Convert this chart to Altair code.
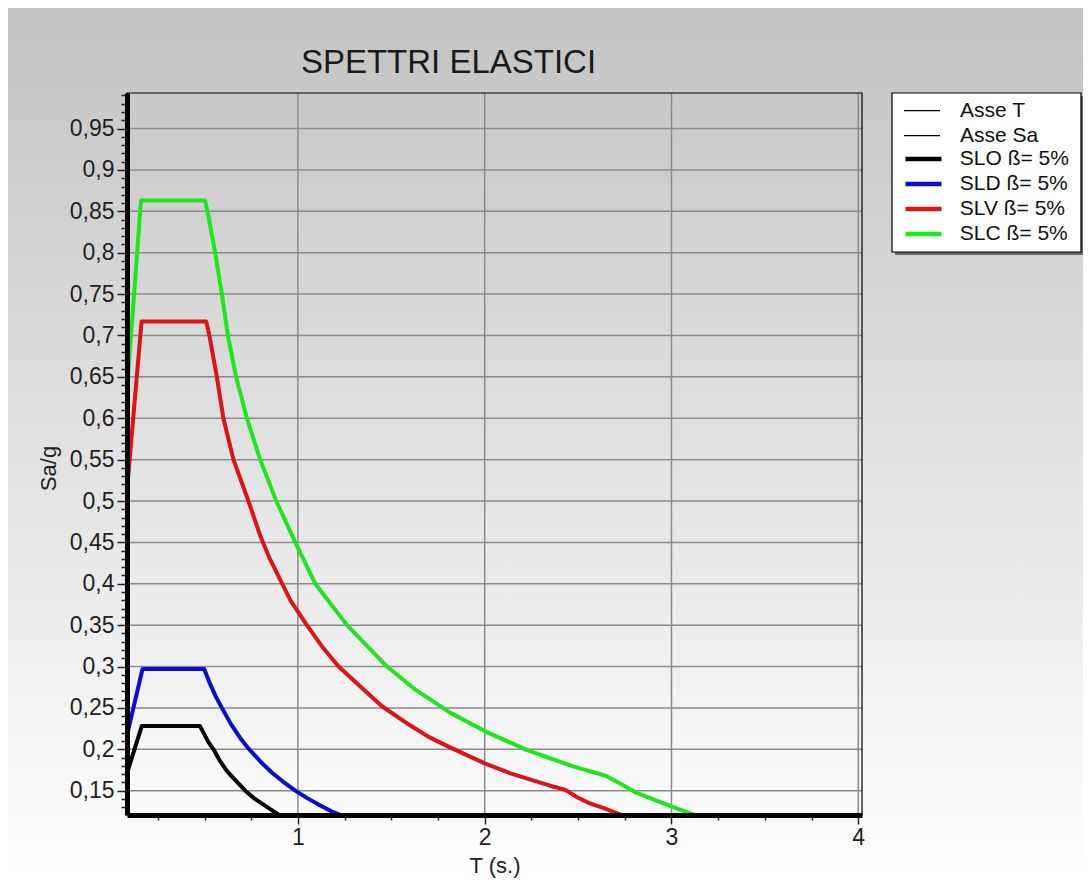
import altair as alt
import pandas as pd

# ---------------- data ----------------
T_SLO = [0.085, 0.164, 0.476, 0.52, 0.548, 0.58, 0.619, 0.66, 0.718, 0.77, 0.83, 0.896, 0.905]
SA_SLO = [0.171, 0.228, 0.228, 0.209, 0.200, 0.187, 0.174, 0.164, 0.150, 0.140, 0.131, 0.121, 0.119]

T_SLD = [0.085, 0.168, 0.498, 0.53, 0.56, 0.593, 0.64, 0.69, 0.735, 0.80, 0.86, 0.92, 0.986,
         1.05, 1.12, 1.18, 1.236]
SA_SLD = [0.217, 0.297, 0.297, 0.279, 0.264, 0.250, 0.231, 0.214, 0.201, 0.185, 0.172, 0.161, 0.150,
          0.141, 0.132, 0.125, 0.120]

T_SLV = [0.085, 0.163, 0.509, 0.526, 0.566, 0.601, 0.655, 0.735, 0.80, 0.85, 0.905, 0.96, 1.048,
         1.13, 1.218, 1.343, 1.45, 1.60, 1.70, 1.817, 2.0, 2.138, 2.25, 2.35, 2.432, 2.495, 2.56,
         2.638, 2.74]
SA_SLV = [0.513, 0.717, 0.717, 0.700, 0.650, 0.600, 0.550, 0.500, 0.457, 0.430, 0.405, 0.380, 0.350,
          0.324, 0.300, 0.274, 0.252, 0.229, 0.215, 0.202, 0.183, 0.171, 0.163, 0.156, 0.151, 0.142,
          0.135, 0.129, 0.120]

T_SLC = [0.085, 0.160, 0.503, 0.516, 0.557, 0.593, 0.625, 0.669, 0.727, 0.798, 0.884, 0.986, 1.093,
         1.263, 1.477, 1.629, 1.817, 2.0, 2.227, 2.477, 2.647, 2.73, 2.817, 2.91, 3.0, 3.07, 3.13]
SA_SLC = [0.635, 0.863, 0.863, 0.850, 0.800, 0.750, 0.700, 0.650, 0.600, 0.550, 0.500, 0.450, 0.400,
          0.350, 0.300, 0.272, 0.244, 0.222, 0.199, 0.179, 0.168, 0.158, 0.147, 0.139, 0.131, 0.125,
          0.120]

X_MIN, X_MAX = 0.085, 4.02
Y_MIN, Y_MAX = 0.1206, 0.993

T_ASSE_T = [X_MIN, X_MAX]
SA_ASSE_T = [Y_MIN, Y_MIN]
T_ASSE_SA = [X_MIN, X_MIN]
SA_ASSE_SA = [Y_MIN, Y_MAX]

AXES_SERIES = ["Asse T", "Asse Sa"]
CURVE_SERIES = ["SLO ß= 5%", "SLD ß= 5%", "SLV ß= 5%", "SLC ß= 5%"]
AXES_COLORS = ["#000000", "#000000"]
CURVE_COLORS = ["#000000", "#0c0cd0", "#dc1414", "#1ee61e"]

Y_GRID = [0.15, 0.2, 0.25, 0.3, 0.35, 0.4, 0.45, 0.5, 0.55, 0.6, 0.65, 0.7, 0.75, 0.8, 0.85, 0.9, 0.95]
Y_TICKS = [round(0.13 + 0.01 * i, 2) for i in range(87)]
X_GRID = [1, 2, 3, 4]
X_TICKS = [0.25 * i for i in range(1, 17)]


def table(items):
    rows = []
    for name, ts, sas in items:
        for i, (t, s) in enumerate(zip(ts, sas)):
            rows.append({"serie": name, "T": t, "Sa": s, "i": i})
    return pd.DataFrame(rows)


df_axes = table([("Asse T", T_ASSE_T, SA_ASSE_T), ("Asse Sa", T_ASSE_SA, SA_ASSE_SA)])
df_curves = table([
    ("SLO ß= 5%", T_SLO, SA_SLO),
    ("SLD ß= 5%", T_SLD, SA_SLD),
    ("SLV ß= 5%", T_SLV, SA_SLV),
    ("SLC ß= 5%", T_SLC, SA_SLC),
])

W, H = 735, 722
PAD = {"left": 119, "top": 85, "right": 221, "bottom": 64}
FONT = "Liberation Sans"
ROW = 24.2

xscale = alt.Scale(domain=[X_MIN, X_MAX], nice=False, zero=False)
yscale = alt.Scale(domain=[Y_MIN, Y_MAX], nice=False, zero=False)

common_axis = dict(
    zindex=1, domainColor="black", domainWidth=5, tickColor="#222222", tickWidth=1.5,
    labelFont=FONT, labelFontSize=23, labelColor="#222222",
    titleFont=FONT, titleFontSize=22, titleFontWeight="normal", titleColor="#222222",
    grid=False, labelOverlap=False,
)

xaxis = alt.Axis(
    values=X_TICKS,
    labelExpr="datum.value % 1 == 0 ? format(datum.value, 'd') : ''",
    tickSize={"condition": {"test": "datum.value % 1 == 0", "value": 9}, "value": 5},
    labelPadding=2, titlePadding=6, **common_axis,
)
yaxis = alt.Axis(
    values=Y_TICKS,
    labelExpr="abs(datum.value*20 - round(datum.value*20)) < 0.001 ? replace(format(datum.value, '.2~f'), '.', ',') : ''",
    tickSize={"condition": {"test": "abs(datum.value*20 - round(datum.value*20)) < 0.001", "value": 10}, "value": 6},
    labelPadding=3,
    titleX=-72, titleY=H / 2 + 14, titleBaseline="alphabetic",
    **common_axis,
)


def X(field="T"):
    return alt.X(f"{field}:Q", scale=xscale, axis=xaxis, title="T (s.)")


def Y(field="Sa"):
    return alt.Y(f"{field}:Q", scale=yscale, axis=yaxis, title="Sa/g")


gradient = alt.LinearGradient(
    gradient="linear",
    stops=[alt.GradientStop(color="#c3c3c3", offset=0), alt.GradientStop(color="#ffffff", offset=1)],
    x1=0, x2=0, y1=0, y2=1,
)

one = alt.Data(values=[{"a": 1}])

bg = alt.Chart(one).mark_rect(clip=False, color=gradient).encode(
    x=alt.value(-PAD["left"]), x2=alt.value(W + PAD["right"]),
    y=alt.value(-PAD["top"]), y2=alt.value(H + PAD["bottom"]),
)

hgrid = alt.Chart(pd.DataFrame({"Sa": Y_GRID})).mark_rule(color="#8a8a8a", strokeWidth=1.5).encode(y=Y())
vgrid = alt.Chart(pd.DataFrame({"T": X_GRID})).mark_rule(color="#8a8a8a", strokeWidth=1.5).encode(x=X())

border = alt.Chart(one).mark_rect(fillOpacity=0, stroke="black", strokeWidth=1.2).encode(
    x=alt.value(0), x2=alt.value(W), y=alt.value(0), y2=alt.value(H)
)

# legend box (white panel with a drop shadow)
LBX, LBY, LBW, LBH = 765, 0, 189, 159
shadow = alt.Chart(one).mark_rect(clip=False, color="#6a6a6a").encode(
    x=alt.value(LBX + 3), x2=alt.value(LBX + LBW + 3), y=alt.value(LBY + 3), y2=alt.value(LBY + LBH + 3)
)
lbox = alt.Chart(one).mark_rect(clip=False, fill="white", stroke="black", strokeWidth=1.2).encode(
    x=alt.value(LBX), x2=alt.value(LBX + LBW), y=alt.value(LBY), y2=alt.value(LBY + LBH)
)

leg_common = dict(
    title=None, orient="none", legendX=LBX + 1, padding=10,
    symbolType="stroke", symbolSize=1296, labelFontSize=21, labelFont=FONT,
    labelColor="#111111", rowPadding=0, clipHeight=ROW,
)
legend_axes = alt.Legend(legendY=LBY - 4.4, symbolStrokeWidth=1.3, labelOffset=19, **leg_common)
legend_curves = alt.Legend(legendY=LBY - 4.4 + 2 * ROW, symbolStrokeWidth=4.5, labelOffset=15.8, **leg_common)

axes_lines = alt.Chart(df_axes).mark_line(clip=True, strokeWidth=1.3).encode(
    x=X(), y=Y(),
    stroke=alt.Stroke("serie:N", sort=AXES_SERIES,
                      scale=alt.Scale(domain=AXES_SERIES, range=AXES_COLORS), legend=legend_axes),
    order="i:Q",
)

curves = alt.Chart(df_curves).mark_line(clip=True, strokeWidth=4, strokeJoin="round").encode(
    x=X(), y=Y(),
    color=alt.Color("serie:N", sort=CURVE_SERIES,
                    scale=alt.Scale(domain=CURVE_SERIES, range=CURVE_COLORS), legend=legend_curves),
    order="i:Q",
)

chart = alt.layer(bg, hgrid, vgrid, border, shadow, lbox, axes_lines, curves).properties(
    width=W, height=H,
    padding=PAD,
    autosize=alt.AutoSizeParams(type="none"),
    title=alt.TitleParams(
        "SPETTRI ELASTICI", fontSize=33, font=FONT, fontWeight="normal", color="#1a1a1a",
        anchor="middle", dx=-46, offset=-98, baseline="alphabetic", frame="group",
    ),
).configure(background="white").configure_view(stroke=None)

chart.save("out.html", embed_options={"renderer": "svg", "actions": False})
